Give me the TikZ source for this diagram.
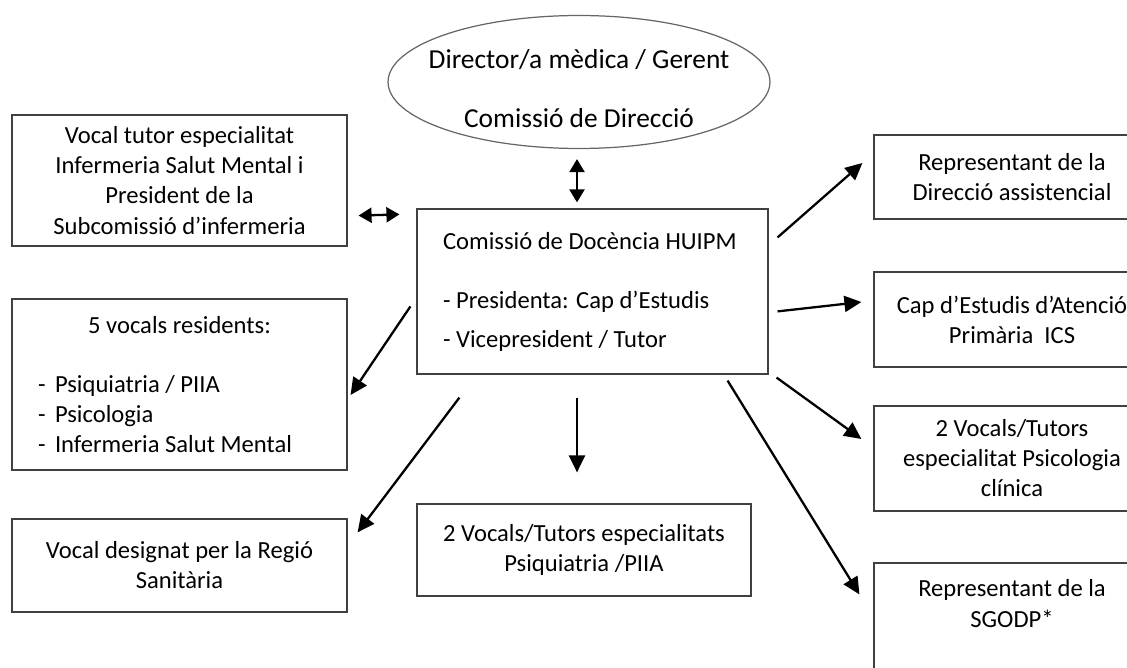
\documentclass[tikz,border=0pt]{standalone}
\usepackage{fontspec}
\setmainfont{Carlito}
\usetikzlibrary{shapes.geometric,arrows.meta}

\begin{document}
\begin{tikzpicture}[x=0.02cm,y=-0.02cm,
		box/.style={draw=black!75,line width=0.7pt,minimum width=6.7cm,align=center,inner sep=0pt,font=\fontsize{14}{17.1}\selectfont},
		arr/.style={line width=1.3pt,-{Triangle[length=0.34cm,width=0.32cm]}},
		darr/.style={line width=1.3pt,{Triangle[length=0.26cm,width=0.3cm]}-{Triangle[length=0.26cm,width=0.3cm]}}]
		\useasboundingbox (0,0) rectangle (1127,668);
		\clip (0,0) rectangle (1127,668);
		\node[box,ellipse,draw=black!60,minimum width=7.64cm,minimum height=2.66cm,inner xsep=-0.33cm,font=\fontsize{15.6}{19}\selectfont] (dir) at (579,82)
			{\rule{0pt}{18pt}Director/a mèdica / Gerent\\[14.6pt]Comissió de Direcció};
		\node[box,minimum width=7.02cm,minimum height=3.3cm,align=flush left,text width=5.98cm,inner xsep=0.52cm] (cen) at (592.5,291.5)
			{Comissió de Docència HUIPM\\[17pt]- Presidenta: Cap d’Estudis\\[4.6pt]- Vicepresident / Tutor};
		\node[box,minimum height=2.62cm] (tut) at (179.5,180.5)
			{Vocal tutor especialitat\\Infermeria Salut Mental i\\President de la\\Subcomissió d’infermeria};
		\node[box,minimum height=3.42cm,align=flush left,text width=5.66cm,inner xsep=0.52cm] (res) at (179.5,384.5)
			{\makebox[5.66cm]{5 vocals residents:}\\[16.5pt]
			\makebox[0.34cm][l]{-}Psiquiatria / PIIA\\
			\makebox[0.34cm][l]{-}Psicologia\\
			\makebox[0.34cm][l]{-}Infermeria Salut Mental};
		\node[box,minimum height=1.86cm] (reg) at (179.5,565.5)
			{Vocal designat per la Regió\\Sanitària};
		\node[box,minimum width=6.68cm,minimum height=1.84cm] (psq) at (584,550)
			{2 Vocals/Tutors especialitats\\Psiquiatria /PIIA};
		\node[box,minimum width=5.52cm,minimum height=1.68cm] (dass) at (1012,177)
			{Representant de la\\Direcció assistencial};
		\node[box,minimum width=5.52cm,minimum height=1.9cm] (cap) at (1012,319.5)
			{Cap d’Estudis d’Atenció\\Primària\ \ ICS};
		\node[box,minimum width=5.52cm,minimum height=2.1cm] (psi) at (1012,458.5)
			{2 Vocals/Tutors\\especialitat Psicologia\\clínica};
		\node[box,minimum width=5.52cm,minimum height=2.4cm] (sgo) at (1012,623)
			{Representant de la\\SGODP*\\ \strut};
		\draw[darr] ([shift={(-2,10)}]dir.south) -- ([shift={(-15.5,-6)}]cen.north);
		\draw[darr] ([shift={(11,-31)}]tut.south east) -- ([shift={(-17,6)}]cen.north west);
		\draw[arr] ([shift={(9,29)}]cen.north east) -- ([shift={(-11,-14)}]dass.west);
		\draw[arr] ([shift={(9,103)}]cen.north east) -- ([shift={(-12,-17.5)}]cap.west);
		\draw[arr] ([shift={(8,3)}]cen.south east) -- ([shift={(-12,-19.5)}]psi.west);
		\draw[arr] ([shift={(-41,6)}]cen.south east) -- ([shift={(-14,32)}]sgo.north west);
		\draw[arr] ([shift={(-15.5,23)}]cen.south) -- ([shift={(-7,-31)}]psq.north);
		\draw[arr] ([shift={(43,23)}]cen.south west) -- ([shift={(10,14)}]reg.north east);
		\draw[arr] ([shift={(-6,98)}]cen.north west) -- ([shift={(3,10.5)}]res.east);
	\end{tikzpicture}
\end{document}
